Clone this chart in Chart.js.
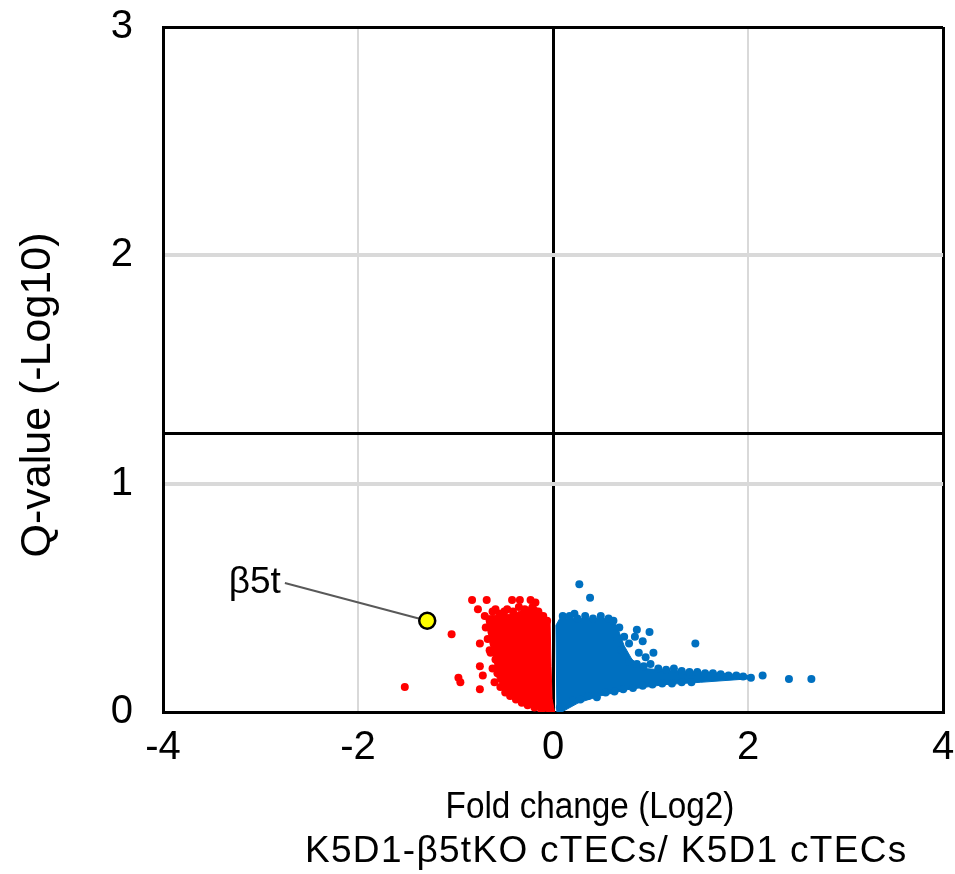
<!DOCTYPE html>
<html lang="en">

<head>
    <meta charset="UTF-8">
    <title>Volcano plot: K5D1-β5tKO cTECs / K5D1 cTECs</title>
    <style>
        html, body { margin: 0; padding: 0; background: #fff; }
        #wrap { width: 955px; height: 874px; }
    </style>
</head>

<body>
    <div id="wrap"><canvas id="myChart" width="955" height="874"></canvas></div>
    <script src="https://cdn.jsdelivr.net/npm/chart.js@4"></script>
    <script>
        // axis ranges and ticks
        const xRange = [-4, 4];
        const yRange = [0, 3];
        const xTitle = ['Fold change (Log2)', 'K5D1-β5tKO cTECs/ K5D1 cTECs'];
        const yTitle = 'Q-value (-Log10)';
        const qThreshold = 1.22;

        // highlighted gene
        const geneLabel = 'β5t';
        const genePoint = [-1.29, 0.40];
        const leaderStart = [-2.75, 0.565];

        // down-regulated genes (red), [log2 fold change, -log10 q]
        const downPoints = [
            [-1.52, 0.11], [-1.04, 0.34], [-0.97, 0.15], [-0.95, 0.13],
            [-0.83, 0.49], [-0.68, 0.49], [-0.42, 0.49], [-0.23, 0.49],
            [-0.77, 0.45], [-0.59, 0.45], [-0.47, 0.45],
            [-0.75, 0.30], [-0.65, 0.27], [-0.75, 0.20], [-0.72, 0.16], [-0.75, 0.10],
            [-0.70, 0.42], [-0.64, 0.40], [-0.69, 0.37], [-0.63, 0.35], [-0.67, 0.32],
            [-0.61, 0.30], [-0.64, 0.26], [-0.59, 0.23], [-0.62, 0.19], [-0.57, 0.17],
            [-0.60, 0.13], [-0.54, 0.11], [-0.49, 0.085], [-0.44, 0.07], [-0.38, 0.055],
            [-0.32, 0.04], [-0.26, 0.03], [-0.19, 0.02], [-0.12, 0.01],
            [-0.62, 0.44], [-0.55, 0.43], [-0.50, 0.44], [-0.41, 0.44], [-0.35, 0.46],
            [-0.29, 0.45], [-0.21, 0.46], [-0.15, 0.44], [-0.10, 0.42], [-0.06, 0.40],
            [-0.34, 0.49], [-0.18, 0.48]
        ];
        // dense core of the red cloud (outline)
        const downCore = [
            [-0.70, 0.42], [-0.40, 0.43], [-0.20, 0.47], [-0.12, 0.44], [-0.03, 0.40],
            [-0.02, 0.20], [-0.01, 0.06], [0.02, -0.01], [-0.06, 0.0], [-0.18, 0.025],
            [-0.33, 0.045], [-0.48, 0.085], [-0.57, 0.14], [-0.61, 0.24], [-0.66, 0.33]
        ];

        // up-regulated genes (blue)
        const upPoints = [
            [0.27, 0.56], [0.38, 0.50], [0.22, 0.43], [0.86, 0.36], [0.99, 0.35],
            [1.03, 0.26], [1.46, 0.30], [2.15, 0.16], [2.42, 0.145], [2.65, 0.145],
            [0.10, 0.42], [0.17, 0.42], [0.25, 0.41], [0.33, 0.42], [0.41, 0.41],
            [0.49, 0.42], [0.57, 0.41], [0.62, 0.40],
            [0.68, 0.37], [0.73, 0.33], [0.66, 0.32], [0.78, 0.30], [0.70, 0.27],
            [0.84, 0.33], [0.92, 0.31], [0.88, 0.26], [0.95, 0.24], [0.78, 0.22],
            [0.86, 0.21], [0.93, 0.20], [1.00, 0.21], [1.08, 0.19], [1.16, 0.185],
            [1.24, 0.19], [1.32, 0.18], [1.40, 0.175], [1.48, 0.175], [1.56, 0.17],
            [1.64, 0.17], [1.72, 0.165], [1.80, 0.16], [1.88, 0.16], [1.95, 0.155], [2.03, 0.15],
            [0.07, 0.02], [0.13, 0.035], [0.20, 0.05], [0.28, 0.055], [0.36, 0.07],
            [0.45, 0.065], [0.54, 0.085], [0.63, 0.09], [0.72, 0.10], [0.82, 0.105],
            [0.92, 0.115], [1.02, 0.12], [1.12, 0.125], [1.22, 0.125], [1.32, 0.13], [1.42, 0.13]
        ];
        // dense core of the blue cloud (outline)
        const upCore = [
            [0.04, 0.0], [0.03, 0.38], [0.07, 0.41], [0.61, 0.41], [0.67, 0.36],
            [0.73, 0.29], [0.81, 0.23], [0.94, 0.19], [1.30, 0.18], [1.71, 0.17],
            [2.0, 0.16], [2.0, 0.145], [1.51, 0.13], [1.15, 0.12], [0.79, 0.10],
            [0.48, 0.07], [0.26, 0.04], [0.09, 0.0]
        ];

        const RED = '#ff0000';
        const BLUE = '#0070c0';
        const GRID = '#d9d9d9';
        const FONT = '"Liberation Sans", Arial, sans-serif';

        const toXY = arr => arr.map(p => ({ x: p[0], y: p[1] }));

        // axis titles and the gene label
        const textPlugin = {
            id: 'texts',
            afterDraw(chart) {
                const { ctx, scales: { x, y } } = chart;
                ctx.save();
                ctx.fillStyle = '#000';
                ctx.textBaseline = 'alphabetic';

                // first title line is a bit narrow in the original
                ctx.save();
                ctx.font = '37px ' + FONT;
                ctx.textAlign = 'center';
                ctx.translate(590, 818);
                ctx.scale(0.9, 1);
                ctx.fillText(xTitle[0], 0, 0);
                ctx.restore();

                ctx.save();
                ctx.font = '37px ' + FONT;
                ctx.textAlign = 'left';
                ctx.letterSpacing = '1.3px';
                ctx.fillText(xTitle[1], 305, 862);
                ctx.restore();

                ctx.textAlign = 'right';
                ctx.textBaseline = 'middle';
                ctx.font = '37px ' + FONT;
                ctx.fillText(geneLabel, x.getPixelForValue(leaderStart[0]) - 4, y.getPixelForValue(leaderStart[1]));

                ctx.translate(38, 395);
                ctx.rotate(-Math.PI / 2);
                ctx.textAlign = 'center';
                ctx.font = '43px ' + FONT;
                ctx.fillText(yTitle, 0, 0);
                ctx.restore();
            }
        };

        const data = {
            datasets: [{
                label: 'threshold',
                data: toXY([[xRange[0], qThreshold], [xRange[1], qThreshold]]),
                showLine: true,
                borderColor: '#000',
                borderWidth: 3,
                pointRadius: 0,
                order: 6
            }, {
                label: 'down core',
                data: toXY(downCore),
                showLine: true,
                fill: 'shape',
                backgroundColor: RED,
                borderColor: RED,
                borderWidth: 1,
                pointRadius: 0,
                order: 5
            }, {
                label: 'up core',
                data: toXY(upCore),
                showLine: true,
                fill: 'shape',
                backgroundColor: BLUE,
                borderColor: BLUE,
                borderWidth: 1,
                pointRadius: 0,
                order: 5
            }, {
                label: 'down',
                data: toXY(downPoints),
                backgroundColor: RED,
                borderWidth: 0,
                pointRadius: 4,
                order: 4
            }, {
                label: 'up',
                data: toXY(upPoints),
                backgroundColor: BLUE,
                borderWidth: 0,
                pointRadius: 4,
                order: 4
            }, {
                label: 'leader',
                data: toXY([leaderStart, genePoint]),
                showLine: true,
                borderColor: '#595959',
                borderWidth: 2,
                pointRadius: 0,
                order: 2
            }, {
                label: geneLabel,
                data: toXY([genePoint]),
                backgroundColor: '#ffff00',
                borderColor: '#000',
                borderWidth: 2.5,
                pointRadius: 8,
                order: 1
            }]
        };

        const config = {
            type: 'scatter',
            data: data,
            plugins: [textPlugin],
            options: {
                responsive: false,
                animation: false,
                events: [],
                layout: { padding: { left: 0, right: 12, top: 27, bottom: 0 } },
                plugins: { legend: { display: false }, tooltip: { enabled: false } },
                scales: {
                    x: {
                        type: 'linear',
                        min: xRange[0],
                        max: xRange[1],
                        afterFit: s => { s.height = 162; s.paddingLeft = 0; s.paddingRight = 0; },
                        ticks: { stepSize: 2, color: '#000', padding: 12, font: { family: FONT, size: 40 } },
                        grid: {
                            drawTicks: false,
                            color: c => (c.tick && Math.abs(c.tick.value) === 2) ? GRID : '#000',
                            lineWidth: c => (c.tick && Math.abs(c.tick.value) === 2) ? 2 : 3
                        },
                        border: { color: '#000', width: 3 }
                    },
                    y: {
                        min: yRange[0],
                        max: yRange[1],
                        afterFit: s => { s.width = 163; s.paddingTop = 0; s.paddingBottom = 0; },
                        ticks: { stepSize: 1, color: '#000', padding: 30, font: { family: FONT, size: 40 } },
                        grid: {
                            drawTicks: false,
                            color: c => (c.tick && (c.tick.value === 1 || c.tick.value === 2)) ? GRID : '#000',
                            lineWidth: c => (c.tick && (c.tick.value === 1 || c.tick.value === 2)) ? 4 : 3
                        },
                        border: { color: '#000', width: 3 }
                    }
                }
            }
        };

        const myChart = new Chart(document.getElementById('myChart'), config);
    </script>
</body>

</html>
